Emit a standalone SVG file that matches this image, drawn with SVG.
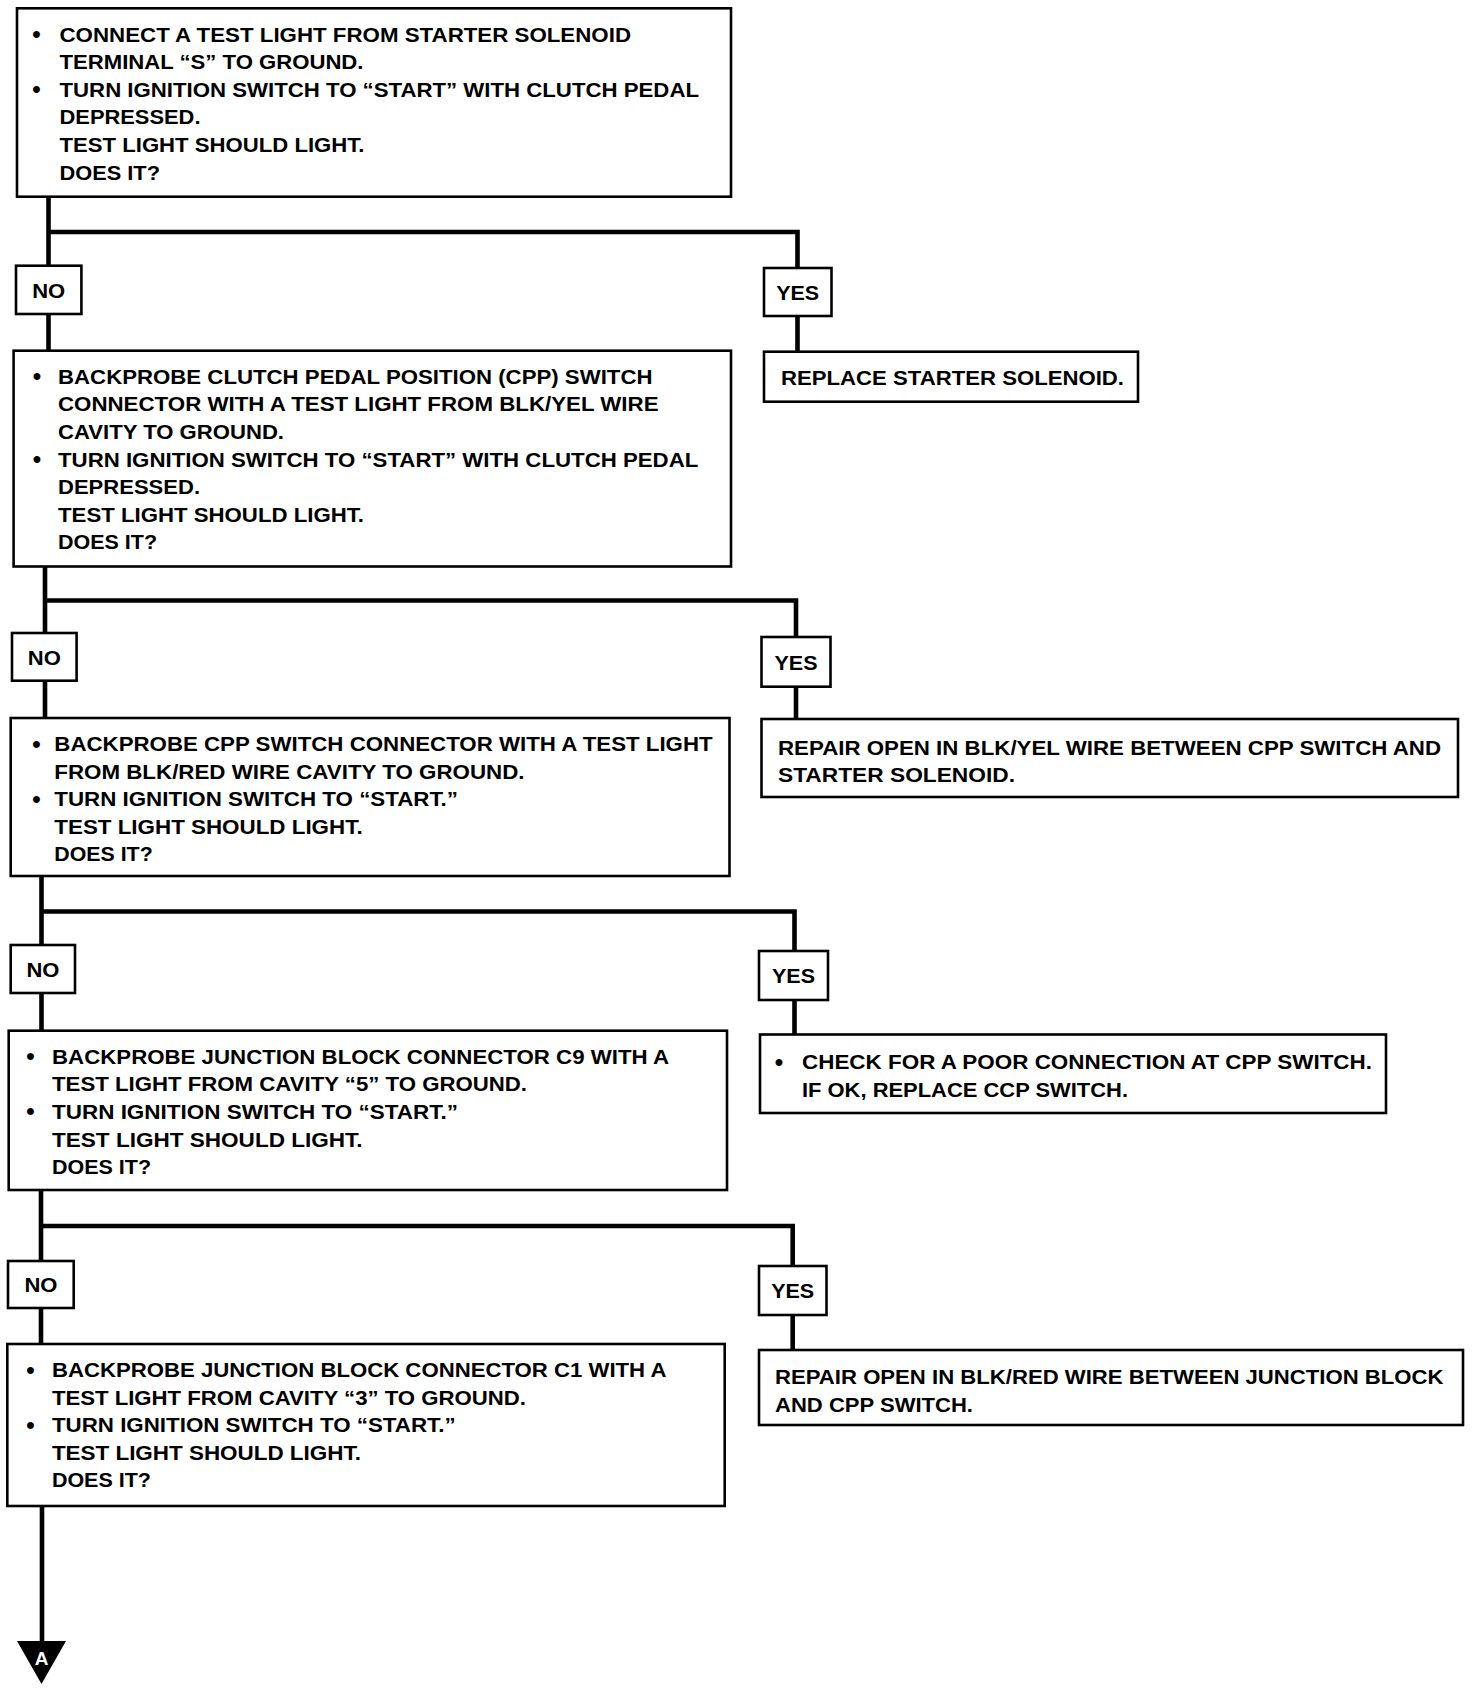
<svg xmlns="http://www.w3.org/2000/svg" width="1472" height="1688" viewBox="0 0 1472 1688">
<style>
.bg{fill:#fff}
.box{fill:#fff;stroke:#000;stroke-width:2.6}
.c{fill:none;stroke:#000;stroke-width:4.6;stroke-linejoin:miter;stroke-linecap:butt}
text{font-family:"Liberation Sans",Arial,sans-serif;font-weight:bold;font-size:21px;fill:#000}
.m{text-anchor:middle}
.b{font-size:24px}
.w{fill:#fff;font-size:19px}
</style>
<rect class="bg" x="0" y="0" width="1472" height="1688"/>
<g id="connectors">
<path class="c" d="M48.5 196.7 V350.7"/>
<path class="c" d="M48.5 232 H797.5 V351.7"/>
<path class="c" d="M45 566.5 V718"/>
<path class="c" d="M45 600.5 H796 V719"/>
<path class="c" d="M41.5 876 V1030.7"/>
<path class="c" d="M41.5 911.5 H794.5 V1034.5"/>
<path class="c" d="M41 1190 V1344"/>
<path class="c" d="M41 1226 H792.7 V1350"/>
<path class="c" d="M42 1506 V1645"/>
<polygon points="17,1641 66,1641 41.5,1684" fill="#000"/>
<text class="m w" x="41.5" y="1665">A</text>
</g>
<g id="q1">
<rect class="box" x="17" y="8.3" width="714" height="188.4"/>
<text class="b" x="32.3" y="42">•</text>
<text x="59.5" y="41.5" textLength="571.5" lengthAdjust="spacingAndGlyphs">CONNECT A TEST LIGHT FROM STARTER SOLENOID</text>
<text x="59.5" y="69.1" textLength="304" lengthAdjust="spacingAndGlyphs">TERMINAL “S” TO GROUND.</text>
<text class="b" x="32.3" y="97.2">•</text>
<text x="59.5" y="96.7" textLength="639.5" lengthAdjust="spacingAndGlyphs">TURN IGNITION SWITCH TO “START” WITH CLUTCH PEDAL</text>
<text x="59.5" y="124.3" textLength="141" lengthAdjust="spacingAndGlyphs">DEPRESSED.</text>
<text x="59.5" y="151.9" textLength="305" lengthAdjust="spacingAndGlyphs">TEST LIGHT SHOULD LIGHT.</text>
<text x="59.5" y="179.5" textLength="100.5" lengthAdjust="spacingAndGlyphs">DOES IT?</text>
</g>
<g id="no1">
<rect class="box" x="16" y="265.7" width="65.4" height="48.3"/>
<text class="m" x="48.7" y="297.5" textLength="33" lengthAdjust="spacingAndGlyphs">NO</text>
</g>
<g id="yes1">
<rect class="box" x="764" y="268" width="67.5" height="48"/>
<text class="m" x="797.7" y="299.5" textLength="43" lengthAdjust="spacingAndGlyphs">YES</text>
</g>
<g id="r1">
<rect class="box" x="764" y="351.7" width="374" height="50"/>
<text x="781" y="385" textLength="343" lengthAdjust="spacingAndGlyphs">REPLACE STARTER SOLENOID.</text>
</g>
<g id="q2">
<rect class="box" x="13.6" y="350.7" width="717.4" height="215.8"/>
<text class="b" x="32.8" y="384.2">•</text>
<text x="58" y="383.7" textLength="594.5" lengthAdjust="spacingAndGlyphs">BACKPROBE CLUTCH PEDAL POSITION (CPP) SWITCH</text>
<text x="58" y="411.3" textLength="600.5" lengthAdjust="spacingAndGlyphs">CONNECTOR WITH A TEST LIGHT FROM BLK/YEL WIRE</text>
<text x="58" y="438.9" textLength="226" lengthAdjust="spacingAndGlyphs">CAVITY TO GROUND.</text>
<text class="b" x="32.8" y="467">•</text>
<text x="58" y="466.5" textLength="640.3" lengthAdjust="spacingAndGlyphs">TURN IGNITION SWITCH TO “START” WITH CLUTCH PEDAL</text>
<text x="58" y="494.1" textLength="142" lengthAdjust="spacingAndGlyphs">DEPRESSED.</text>
<text x="58" y="521.7" textLength="306" lengthAdjust="spacingAndGlyphs">TEST LIGHT SHOULD LIGHT.</text>
<text x="58" y="549.3" textLength="99" lengthAdjust="spacingAndGlyphs">DOES IT?</text>
</g>
<g id="no2">
<rect class="box" x="12" y="633" width="64.6" height="47.7"/>
<text class="m" x="44.3" y="664.5" textLength="33" lengthAdjust="spacingAndGlyphs">NO</text>
</g>
<g id="yes2">
<rect class="box" x="761.5" y="637" width="69" height="49.7"/>
<text class="m" x="796" y="669.5" textLength="43" lengthAdjust="spacingAndGlyphs">YES</text>
</g>
<g id="r2">
<rect class="box" x="761.5" y="719" width="696.5" height="78"/>
<text x="778" y="754.5" textLength="663" lengthAdjust="spacingAndGlyphs">REPAIR OPEN IN BLK/YEL WIRE BETWEEN CPP SWITCH AND</text>
<text x="778" y="782.1" textLength="237" lengthAdjust="spacingAndGlyphs">STARTER SOLENOID.</text>
</g>
<g id="q3">
<rect class="box" x="10.7" y="718" width="718.8" height="158"/>
<text class="b" x="32.2" y="751.5">•</text>
<text x="54.3" y="751" textLength="658.3" lengthAdjust="spacingAndGlyphs">BACKPROBE CPP SWITCH CONNECTOR WITH A TEST LIGHT</text>
<text x="54.3" y="778.6" textLength="470.2" lengthAdjust="spacingAndGlyphs">FROM BLK/RED WIRE CAVITY TO GROUND.</text>
<text class="b" x="32.2" y="806.7">•</text>
<text x="54.3" y="806.2" textLength="403.7" lengthAdjust="spacingAndGlyphs">TURN IGNITION SWITCH TO “START.”</text>
<text x="54.3" y="833.8" textLength="308.3" lengthAdjust="spacingAndGlyphs">TEST LIGHT SHOULD LIGHT.</text>
<text x="54.3" y="861.4" textLength="98.4" lengthAdjust="spacingAndGlyphs">DOES IT?</text>
</g>
<g id="no3">
<rect class="box" x="10.7" y="945" width="64.3" height="48"/>
<text class="m" x="42.9" y="976.5" textLength="33" lengthAdjust="spacingAndGlyphs">NO</text>
</g>
<g id="yes3">
<rect class="box" x="759" y="951" width="69" height="49"/>
<text class="m" x="793.5" y="983" textLength="43" lengthAdjust="spacingAndGlyphs">YES</text>
</g>
<g id="r3">
<rect class="box" x="760" y="1034.5" width="626" height="78.5"/>
<text class="b" x="774.8" y="1069.5">•</text>
<text x="802" y="1069" textLength="570" lengthAdjust="spacingAndGlyphs">CHECK FOR A POOR CONNECTION AT CPP SWITCH.</text>
<text x="802" y="1096.6" textLength="326" lengthAdjust="spacingAndGlyphs">IF OK, REPLACE CCP SWITCH.</text>
</g>
<g id="q4">
<rect class="box" x="8.7" y="1030.7" width="718.3" height="159.3"/>
<text class="b" x="26.3" y="1064.2">•</text>
<text x="52" y="1063.7" textLength="617" lengthAdjust="spacingAndGlyphs">BACKPROBE JUNCTION BLOCK CONNECTOR C9 WITH A</text>
<text x="52" y="1091.3" textLength="475" lengthAdjust="spacingAndGlyphs">TEST LIGHT FROM CAVITY “5” TO GROUND.</text>
<text class="b" x="26.3" y="1119.4">•</text>
<text x="52" y="1118.9" textLength="406" lengthAdjust="spacingAndGlyphs">TURN IGNITION SWITCH TO “START.”</text>
<text x="52" y="1146.5" textLength="310.6" lengthAdjust="spacingAndGlyphs">TEST LIGHT SHOULD LIGHT.</text>
<text x="52" y="1174.1" textLength="99" lengthAdjust="spacingAndGlyphs">DOES IT?</text>
</g>
<g id="no4">
<rect class="box" x="8" y="1261" width="65.7" height="47"/>
<text class="m" x="40.9" y="1292" textLength="33" lengthAdjust="spacingAndGlyphs">NO</text>
</g>
<g id="yes4">
<rect class="box" x="759" y="1266" width="67.5" height="49"/>
<text class="m" x="792.7" y="1298" textLength="43" lengthAdjust="spacingAndGlyphs">YES</text>
</g>
<g id="r4">
<rect class="box" x="759" y="1350" width="704" height="75"/>
<text x="775" y="1384" textLength="668.5" lengthAdjust="spacingAndGlyphs">REPAIR OPEN IN BLK/RED WIRE BETWEEN JUNCTION BLOCK</text>
<text x="775" y="1411.6" textLength="198" lengthAdjust="spacingAndGlyphs">AND CPP SWITCH.</text>
</g>
<g id="q5">
<rect class="box" x="7.3" y="1344" width="717.4" height="162"/>
<text class="b" x="26.3" y="1377.5">•</text>
<text x="51.9" y="1377" textLength="614.6" lengthAdjust="spacingAndGlyphs">BACKPROBE JUNCTION BLOCK CONNECTOR C1 WITH A</text>
<text x="51.9" y="1404.6" textLength="474" lengthAdjust="spacingAndGlyphs">TEST LIGHT FROM CAVITY “3” TO GROUND.</text>
<text class="b" x="26.3" y="1432.7">•</text>
<text x="51.9" y="1432.2" textLength="403.7" lengthAdjust="spacingAndGlyphs">TURN IGNITION SWITCH TO “START.”</text>
<text x="51.9" y="1459.8" textLength="309" lengthAdjust="spacingAndGlyphs">TEST LIGHT SHOULD LIGHT.</text>
<text x="51.9" y="1487.4" textLength="99" lengthAdjust="spacingAndGlyphs">DOES IT?</text>
</g>
</svg>
